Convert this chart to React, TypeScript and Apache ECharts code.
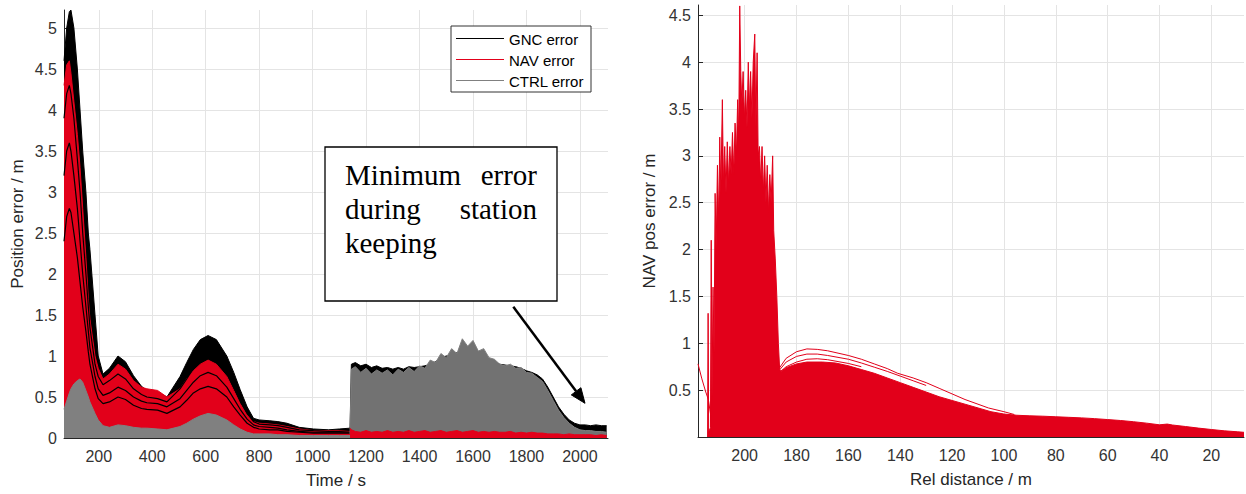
import { useEffect, useRef } from "react";
import * as echarts from "echarts";

// ---------- Left panel: position error vs time ----------
const timeTicks = [200, 400, 600, 800, 1000, 1200, 1400, 1600, 1800, 2000];
const posErrTicks = [0, 0.5, 1, 1.5, 2, 2.5, 3, 3.5, 4, 4.5, 5];

const transferTime = [70, 80, 90, 96, 107, 120, 130, 140, 152, 161, 167, 186, 198, 216, 240, 272, 300, 330, 360, 380, 420, 455, 504, 529, 554, 580, 609, 640, 679, 705, 729, 755, 779, 800, 840, 870, 904, 950, 1003, 1060, 1100, 1140];
const gncTransfer = [4.6, 5.0, 5.2, 5.22, 5.0, 4.5, 4.0, 3.5, 3.0, 2.5, 2.3, 1.5, 1.0, 0.78, 0.85, 1.0, 0.93, 0.76, 0.63, 0.58, 0.56, 0.5, 0.75, 0.92, 1.08, 1.2, 1.25, 1.2, 1.0, 0.8, 0.59, 0.38, 0.24, 0.22, 0.21, 0.2, 0.18, 0.13, 0.11, 0.1, 0.11, 0.12];
const navTransfer = [4.3, 4.55, 4.6, 4.45, 4.1, 3.7, 3.3, 2.8, 2.2, 1.7, 1.45, 1.0, 0.85, 0.72, 0.78, 0.9, 0.84, 0.7, 0.62, 0.6, 0.58, 0.5, 0.6, 0.72, 0.82, 0.9, 0.95, 0.9, 0.75, 0.58, 0.42, 0.28, 0.2, 0.18, 0.17, 0.16, 0.14, 0.11, 0.09, 0.09, 0.09, 0.09];
const gncRunA = [3.9, 4.2, 4.3, 4.2, 3.9, 3.4, 3.0, 2.5, 2.0, 1.6, 1.35, 0.9, 0.75, 0.65, 0.7, 0.78, 0.72, 0.6, 0.53, 0.5, 0.48, 0.44, 0.6, 0.72, 0.85, 0.95, 1.0, 0.95, 0.8, 0.62, 0.45, 0.3, 0.2, 0.17, 0.16, 0.15, 0.13, 0.1, 0.09, 0.08, 0.08, 0.09];
const gncRunB = [3.2, 3.5, 3.6, 3.5, 3.2, 2.8, 2.4, 2.0, 1.6, 1.3, 1.1, 0.75, 0.6, 0.52, 0.55, 0.62, 0.58, 0.5, 0.45, 0.43, 0.42, 0.38, 0.48, 0.58, 0.68, 0.76, 0.8, 0.76, 0.62, 0.48, 0.35, 0.23, 0.16, 0.14, 0.13, 0.12, 0.1, 0.08, 0.07, 0.07, 0.07, 0.07];
const gncRunC = [2.4, 2.7, 2.8, 2.75, 2.5, 2.2, 1.9, 1.6, 1.3, 1.05, 0.9, 0.6, 0.48, 0.42, 0.44, 0.5, 0.47, 0.4, 0.36, 0.35, 0.34, 0.3, 0.38, 0.46, 0.55, 0.6, 0.63, 0.6, 0.5, 0.38, 0.28, 0.18, 0.13, 0.11, 0.1, 0.1, 0.08, 0.07, 0.06, 0.06, 0.06, 0.06];
const ctrlTransfer = [0.35, 0.45, 0.55, 0.6, 0.66, 0.7, 0.72, 0.68, 0.58, 0.5, 0.44, 0.3, 0.22, 0.15, 0.13, 0.16, 0.15, 0.13, 0.12, 0.12, 0.11, 0.1, 0.14, 0.18, 0.23, 0.27, 0.3, 0.28, 0.22, 0.16, 0.11, 0.07, 0.05, 0.05, 0.05, 0.04, 0.04, 0.03, 0.03, 0.03, 0.03, 0.03];

const stationTime = [1140, 1145, 1160, 1180, 1200, 1220, 1240, 1260, 1280, 1300, 1320, 1340, 1360, 1380, 1400, 1420, 1440, 1460, 1480, 1500, 1520, 1540, 1560, 1580, 1600, 1620, 1640, 1660, 1680, 1700, 1720, 1740, 1760, 1780, 1800, 1820, 1840, 1860, 1880, 1900, 1920, 1940, 1960, 1980, 2000, 2020, 2040, 2060, 2080, 2100];
const gncStation = [0.12, 0.9, 0.92, 0.88, 0.9, 0.86, 0.88, 0.85, 0.86, 0.84, 0.86, 0.84, 0.87, 0.86, 0.87, 0.88, 0.9, 0.93, 0.98, 1.0, 1.02, 1.04, 1.06, 1.07, 1.06, 1.02, 1.0, 0.96, 0.93, 0.9, 0.89, 0.88, 0.87, 0.85, 0.82, 0.8, 0.77, 0.72, 0.62, 0.5, 0.38, 0.29, 0.22, 0.18, 0.16, 0.16, 0.15, 0.16, 0.15, 0.15];
const ctrlStation = [0.05, 0.84, 0.87, 0.8, 0.85, 0.78, 0.83, 0.79, 0.83, 0.77, 0.84, 0.8, 0.86, 0.81, 0.88, 0.85, 0.95, 0.92, 1.03, 0.98, 1.09, 1.03, 1.21, 1.12, 1.19, 1.06, 1.09, 0.98, 0.96, 0.9, 0.88, 0.9, 0.85, 0.86, 0.8, 0.79, 0.74, 0.69, 0.58, 0.46, 0.34, 0.25, 0.18, 0.13, 0.1, 0.09, 0.09, 0.08, 0.08, 0.07];
const navStation = [0.12, 0.1, 0.08, 0.07, 0.09, 0.07, 0.08, 0.07, 0.09, 0.07, 0.08, 0.07, 0.09, 0.07, 0.08, 0.09, 0.07, 0.08, 0.09, 0.07, 0.08, 0.09, 0.07, 0.08, 0.09, 0.07, 0.08, 0.07, 0.08, 0.07, 0.07, 0.08, 0.06, 0.07, 0.06, 0.07, 0.06, 0.06, 0.05, 0.05, 0.05, 0.04, 0.05, 0.04, 0.04, 0.04, 0.04, 0.03, 0.04, 0.03];

// ---------- Right panel: NAV pos error vs relative distance ----------
const distTicks = [20, 40, 60, 80, 100, 120, 140, 160, 180, 200];
const navErrTicks = [0.5, 1, 1.5, 2, 2.5, 3, 3.5, 4, 4.5];

const relDistance = [214.3, 214.1, 213.9, 213.2, 212.9, 212.6, 212.2, 211.8, 211.4, 211.0, 210.5, 210.0, 209.6, 209.2, 208.6, 208.2, 207.7, 207.2, 206.7, 206.2, 205.7, 205.2, 204.7, 204.2, 203.7, 203.2, 202.7, 202.3, 201.9, 201.5, 201.1, 200.6, 200.1, 199.6, 199.1, 198.6, 198.2, 197.7, 197.2, 196.7, 196.1, 195.7, 195.2, 194.8, 194.3, 193.8, 193.3, 192.8, 192.3, 191.8, 191.3, 190.8, 190.3, 189.8, 189.2, 188.8, 188.2, 187.6, 187.0, 186.5, 186.0, 184, 180, 176, 170, 165, 160, 155, 150, 145, 140, 135, 130, 125, 120, 115, 110, 105, 100, 95, 90, 85, 80, 75, 70, 65, 60, 55, 50, 45, 40, 37, 35, 30, 25, 20, 15, 10, 7.4];
const navPosError = [0, 1.32, 0.05, 0.1, 2.1, 0.4, 1.6, 0.9, 2.6, 2.0, 2.9, 2.3, 3.2, 2.6, 3.6, 2.7, 3.1, 2.6, 3.15, 2.7, 3.1, 2.8, 3.25, 2.8, 3.35, 3.0, 3.6, 3.2, 4.6, 3.9, 3.55, 3.9, 3.4, 3.7, 3.3, 4.0, 3.5, 3.9, 3.4, 4.0, 4.3, 3.3, 4.1, 3.0, 3.1, 2.7, 3.1, 2.6, 3.0, 2.5, 2.9, 2.4, 2.8, 2.5, 3.0, 2.2, 1.9, 1.5, 1.0, 0.72, 0.7, 0.74, 0.78, 0.8, 0.8, 0.79, 0.76, 0.72, 0.68, 0.63, 0.58, 0.53, 0.48, 0.43, 0.39, 0.35, 0.31, 0.27, 0.245, 0.232, 0.226, 0.222, 0.216, 0.21, 0.204, 0.196, 0.186, 0.176, 0.163, 0.148, 0.13, 0.138, 0.128, 0.112, 0.095, 0.08, 0.066, 0.056, 0.05];

const strayDist = [218, 216.5, 215, 214, 213.2, 212.6];
const strayErr = [0.78, 0.62, 0.48, 0.4, 0.25, 0];

const runADist = [187, 184, 180, 176, 172, 168, 164, 160, 155, 150, 145, 141, 135, 130, 125, 120, 115, 110, 106, 100, 96];
const runAErr = [0.72, 0.84, 0.91, 0.94, 0.935, 0.92, 0.895, 0.87, 0.83, 0.78, 0.73, 0.68, 0.63, 0.58, 0.52, 0.46, 0.4, 0.35, 0.31, 0.27, 0.24];
const runBDist = [187, 184, 180, 176, 172, 168, 164, 160, 155, 150, 145, 140, 135, 130];
const runBErr = [0.7, 0.8, 0.86, 0.885, 0.885, 0.87, 0.85, 0.83, 0.79, 0.745, 0.7, 0.65, 0.6, 0.55];
const runCDist = [187, 184, 180, 176, 172, 168, 164, 160, 155];
const runCErr = [0.68, 0.75, 0.8, 0.83, 0.835, 0.825, 0.805, 0.785, 0.75];

const BLACK = "#000000";
const RED = "#e2001a";
const GRAY = "#808080";
const FONT = "'Liberation Sans', Arial, sans-serif";
const SERIF = "'Liberation Serif', 'Times New Roman', serif";

const zip = (xs: number[], ys: number[]) => xs.map((x, i) => [x, ys[i]]);

function areaSeries(name: string, idx: number, data: number[][], color: string, z: number, fill?: string) {
  return {
    type: "line", name, xAxisIndex: idx, yAxisIndex: idx, data, symbol: "none", showSymbol: false,
    lineStyle: { color, width: 1 }, itemStyle: { color },
    areaStyle: { color: fill ?? color, opacity: 1 }, z, silent: true,
  };
}
function lineSeries(name: string, idx: number, data: number[][], color: string, z: number, width = 1) {
  return {
    type: "line", name, xAxisIndex: idx, yAxisIndex: idx, data, symbol: "none", showSymbol: false,
    lineStyle: { color, width }, itemStyle: { color }, z, silent: true,
  };
}

const axisCommon = {
  axisLine: { show: true, onZero: false, lineStyle: { color: "#262626", width: 1 } },
  splitLine: { show: true, lineStyle: { color: "#e4e4e4", width: 1 } },
  nameTextStyle: { fontSize: 17, color: "#262626", fontFamily: FONT },
};
const tick = (vals: number[]) => ({ show: true, inside: true, length: 5, customValues: vals, lineStyle: { color: "#262626" } });
const label = (vals: number[], margin: number) => ({
  customValues: vals, fontSize: 16, color: "#333", fontFamily: FONT, margin,
  formatter: (v: number) => String(v),
});

const serifText = (x: number, y: number, text: string, align: string) => ({
  type: "text", x, y, z: 101,
  style: { text, fontSize: 29, fontFamily: SERIF, fill: "#000", verticalAlign: "middle", align },
});

const option = {
  animation: false,
  backgroundColor: "#ffffff",
  textStyle: { fontFamily: FONT },
  grid: [
    { left: 64, top: 10, width: 544, height: 428, outerBoundsMode: "none" },
    { left: 698, top: 5, width: 546, height: 432, outerBoundsMode: "none" },
  ],
  xAxis: [
    {
      ...axisCommon, type: "value", gridIndex: 0, min: 70, max: 2105,
      axisTick: tick(timeTicks), axisLabel: label(timeTicks, 10),
      name: "Time / s", nameLocation: "middle", nameGap: 34,
    },
    {
      ...axisCommon, type: "value", gridIndex: 1, min: 7.4, max: 218, inverse: true,
      axisTick: tick(distTicks), axisLabel: label(distTicks, 10),
      name: "Rel distance / m", nameLocation: "middle", nameGap: 34,
    },
  ],
  yAxis: [
    {
      ...axisCommon, type: "value", gridIndex: 0, min: 0, max: 5.22,
      axisTick: tick(posErrTicks), axisLabel: label(posErrTicks, 7),
      name: "Position error / m", nameLocation: "middle", nameGap: 38,
    },
    {
      ...axisCommon, type: "value", gridIndex: 1, min: 0, max: 4.61,
      axisTick: tick(navErrTicks), axisLabel: label(navErrTicks, 7),
      name: "NAV pos error / m", nameLocation: "middle", nameGap: 40,
    },
  ],
  series: [
    areaSeries("GNC error", 0, zip(transferTime, gncTransfer), BLACK, 2),
    areaSeries("GNC error", 0, zip(stationTime, gncStation), BLACK, 2),
    areaSeries("NAV error", 0, zip(transferTime, navTransfer), RED, 3),
    lineSeries("GNC error", 0, zip(transferTime, gncRunA), BLACK, 4, 1.2),
    lineSeries("GNC error", 0, zip(transferTime, gncRunB), BLACK, 4, 1.2),
    lineSeries("GNC error", 0, zip(transferTime, gncRunC), BLACK, 4, 1.2),
    areaSeries("CTRL error", 0, zip(transferTime, ctrlTransfer), GRAY, 5),
    areaSeries("CTRL error", 0, zip(stationTime, ctrlStation), GRAY, 5, "#727272"),
    areaSeries("NAV error", 0, zip(stationTime, navStation), RED, 6),
    areaSeries("NAV pos error", 1, zip(relDistance, navPosError), RED, 2),
    lineSeries("NAV pos error", 1, zip(strayDist, strayErr), RED, 3),
    lineSeries("NAV pos error", 1, zip(runADist, runAErr), RED, 3),
    lineSeries("NAV pos error", 1, zip(runBDist, runBErr), RED, 3),
    lineSeries("NAV pos error", 1, zip(runCDist, runCErr), RED, 3),
  ],
  graphic: [
    // legend box
    { type: "rect", shape: { x: 451, y: 26, width: 140, height: 66 }, style: { fill: "#fff", stroke: "#333", lineWidth: 1 }, z: 100 },
    { type: "line", shape: { x1: 456, y1: 38.5, x2: 504, y2: 38.5 }, style: { stroke: BLACK, lineWidth: 1 }, z: 101 },
    { type: "line", shape: { x1: 456, y1: 59.5, x2: 504, y2: 59.5 }, style: { stroke: RED, lineWidth: 1 }, z: 101 },
    { type: "line", shape: { x1: 456, y1: 80.5, x2: 504, y2: 80.5 }, style: { stroke: GRAY, lineWidth: 1 }, z: 101 },
    { type: "text", x: 509, y: 39, style: { text: "GNC error", fontSize: 15, fontFamily: FONT, fill: "#000", verticalAlign: "middle" }, z: 101 },
    { type: "text", x: 509, y: 60, style: { text: "NAV error", fontSize: 15, fontFamily: FONT, fill: "#000", verticalAlign: "middle" }, z: 101 },
    { type: "text", x: 509, y: 81, style: { text: "CTRL error", fontSize: 15, fontFamily: FONT, fill: "#000", verticalAlign: "middle" }, z: 101 },
    // annotation box
    { type: "rect", shape: { x: 325, y: 147, width: 232, height: 154 }, style: { fill: "#fff", stroke: "#000", lineWidth: 1.3 }, z: 100 },
    serifText(345, 175, "Minimum", "left"),
    serifText(537, 175, "error", "right"),
    serifText(345, 209, "during", "left"),
    serifText(537, 209, "station", "right"),
    serifText(345, 243, "keeping", "left"),
    // arrow
    { type: "line", shape: { x1: 513.3, y1: 306.7, x2: 576.1, y2: 391.3 }, style: { stroke: "#000", lineWidth: 2.5 }, z: 101 },
    { type: "polygon", shape: { points: [[585, 403.3], [571.3, 394.9], [580.9, 387.7]] }, style: { fill: "#000", stroke: "#000", lineWidth: 1 }, z: 101 },
  ],
};

export default function App() {
  const ref = useRef<HTMLDivElement>(null);
  useEffect(() => {
    if (!ref.current) return;
    const chart = echarts.init(ref.current, null, { renderer: "svg" });
    chart.setOption(option as any);
    return () => chart.dispose();
  }, []);
  return (
    <div
      ref={ref}
      style={{ position: "absolute", left: 0, top: 0, width: 1246, height: 494, background: "#fff" }}
    />
  );
}
